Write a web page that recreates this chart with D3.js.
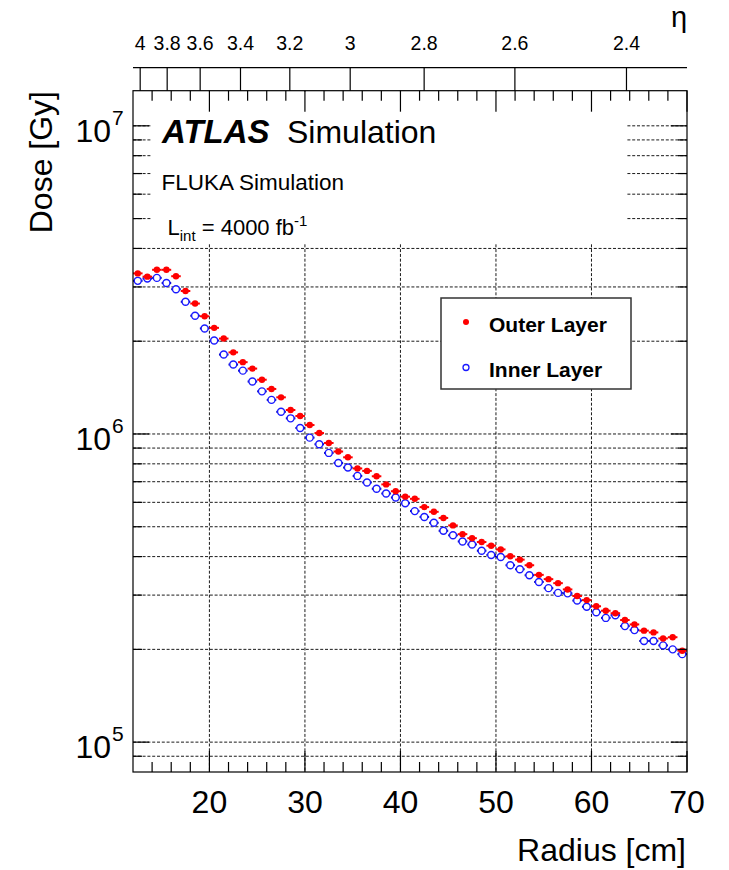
<!DOCTYPE html>
<html><head><meta charset="utf-8">
<script src="https://cdn.jsdelivr.net/npm/d3@7"></script>
<style>
body{margin:0;background:#fff}
text{font-family:"Liberation Sans",Arial,Helvetica,sans-serif;fill:#000}
</style></head>
<body><svg id="c" width="729" height="870"></svg>
<script>
// ---- data ----
const radius = [12.5,13.5,14.5,15.5,16.5,17.5,18.5,19.5,20.5,21.5,22.5,23.5,24.5,25.5,26.5,27.5,28.5,29.5,30.5,31.5,32.5,33.5,34.5,35.5,36.5,37.5,38.5,39.5,40.5,41.5,42.5,43.5,44.5,45.5,46.5,47.5,48.5,49.5,50.5,51.5,52.5,53.5,54.5,55.5,56.5,57.5,58.5,59.5,60.5,61.5,62.5,63.5,64.5,65.5,66.5,67.5,68.5,69.5];
const outerDose = [3.32e6,3.24e6,3.41e6,3.41e6,3.25e6,2.91e6,2.65e6,2.41e6,2.21e6,2.04e6,1.84e6,1.71e6,1.63e6,1.50e6,1.40e6,1.315e6,1.196e6,1.144e6,1.069e6,1.007e6,9.35e5,8.77e5,8.40e5,7.73e5,7.59e5,7.29e5,6.86e5,6.52e5,6.26e5,6.16e5,5.79e5,5.59e5,5.34e5,5.05e5,4.73e5,4.59e5,4.46e5,4.34e5,4.22e5,4.01e5,3.91e5,3.75e5,3.49e5,3.38e5,3.28e5,3.13e5,2.98e5,2.89e5,2.76e5,2.67e5,2.62e5,2.49e5,2.41e5,2.30e5,2.27e5,2.17e5,2.19e5,1.98e5];
const innerDose = [3.14e6,3.195e6,3.21e6,3.09e6,2.95e6,2.685e6,2.42e6,2.20e6,2.01e6,1.81e6,1.68e6,1.605e6,1.48e6,1.375e6,1.29e6,1.18e6,1.124e6,1.046e6,9.73e5,9.26e5,8.68e5,8.05e5,7.78e5,7.31e5,6.96e5,6.64e5,6.41e5,6.22e5,5.96e5,5.62e5,5.38e5,5.15e5,4.85e5,4.69e5,4.48e5,4.38e5,4.18e5,4.05e5,3.99e5,3.75e5,3.64e5,3.48e5,3.31e5,3.16e5,3.05e5,3.04e5,2.88e5,2.75e5,2.64e5,2.53e5,2.58e5,2.38e5,2.31e5,2.13e5,2.13e5,2.06e5,2.00e5,1.93e5];
const binHalfWidth = 0.5;
const xMajorTicks = [20,30,40,50,60,70];
const xMinorTicks = [14,16,18,22,24,26,28,32,34,36,38,42,44,46,48,52,54,56,58,62,64,66,68];
const yMajorExps = [5,6,7];
const yMinorTicks = [9e4,2e5,3e5,4e5,5e5,6e5,7e5,8e5,9e5,2e6,3e6,4e6,5e6,6e6,7e6,8e6,9e6];
const etaTicks = [4,3.8,3.6,3.4,3.2,3,2.8,2.6,2.4];
const etaLabels = ["4","3.8","3.6","3.4","3.2","3","2.8","2.6","2.4"];
const etaZ = 348; // cm, z position used for the eta axis
const series = ["Outer Layer","Inner Layer"];

// ---- layout ----
const L=133, R=687, T=90.7, B=772, etaY=67.7;
const x = d3.scaleLinear().domain([12,70]).range([L,R]);
const y = d3.scaleLog().domain([8e4,1.3e7]).range([B,T]);
const svg = d3.select("#c");
const red="#ff0000", blue="#1a1aff";

// grid
const grid = svg.append("g").attr("stroke","#000").attr("stroke-width",0.9).attr("stroke-dasharray","3,1.8");
grid.selectAll("line.v").data(xMajorTicks.filter(d=>d<70)).join("line")
  .attr("x1",d=>x(d)).attr("x2",d=>x(d)).attr("y1",T).attr("y2",B);
const yGridVals = yMinorTicks.concat(yMajorExps.map(e=>Math.pow(10,e)));
grid.selectAll("line.h").data(yGridVals).join("line")
  .attr("x1",L).attr("x2",R).attr("y1",d=>y(d)).attr("y2",d=>y(d));

// white panel behind the labels
svg.append("rect").attr("x",152).attr("y",T+1).attr("width",626-152).attr("height",244-T-1).attr("fill","#fff");

// legend box
const lg = svg.append("g");
lg.append("rect").attr("x",441).attr("y",298).attr("width",190).attr("height",91)
  .attr("fill","#fff").attr("stroke","#333").attr("stroke-width",1.5);
lg.append("circle").attr("cx",466).attr("cy",322).attr("r",3).attr("fill",red);
lg.append("circle").attr("cx",466).attr("cy",367.5).attr("r",3).attr("fill","none").attr("stroke",blue).attr("stroke-width",1.3);
lg.append("text").attr("x",489).attr("y",331.5).attr("font-size",21).attr("font-weight","bold").text(series[0]);
lg.append("text").attr("x",489).attr("y",376.5).attr("font-size",21).attr("font-weight","bold").text(series[1]);

// data: inner (open blue) then outer (red filled)
const inner = radius.map((r,i)=>({r,v:innerDose[i]}));
const outer = radius.map((r,i)=>({r,v:outerDose[i]}));
const gi = svg.append("g");
gi.selectAll("line").data(inner).join("line")
  .attr("x1",d=>x(d.r-binHalfWidth)).attr("x2",d=>x(d.r+binHalfWidth))
  .attr("y1",d=>y(d.v)).attr("y2",d=>y(d.v)).attr("stroke","#0000b0").attr("stroke-width",2);
gi.selectAll("circle").data(inner).join("circle")
  .attr("cx",d=>x(d.r)).attr("cy",d=>y(d.v)).attr("r",3.5)
  .attr("fill","#fff").attr("stroke",blue).attr("stroke-width",1.4);
const go = svg.append("g");
go.selectAll("line").data(outer).join("line")
  .attr("x1",d=>x(d.r-binHalfWidth)).attr("x2",d=>x(d.r+binHalfWidth))
  .attr("y1",d=>y(d.v)).attr("y2",d=>y(d.v)).attr("stroke",red).attr("stroke-width",2);
go.selectAll("circle").data(outer).join("circle")
  .attr("cx",d=>x(d.r)).attr("cy",d=>y(d.v)).attr("r",3.2).attr("fill",red);

// frame + ticks
const ax = svg.append("g").attr("stroke","#000").attr("stroke-width",1.2).attr("fill","none");
ax.append("rect").attr("x",L).attr("y",T).attr("width",R-L).attr("height",B-T);
function xt(vals,len){
  ax.append("g").selectAll("line").data(vals).join("line")
    .attr("x1",d=>x(d)).attr("x2",d=>x(d)).attr("y1",B).attr("y2",B-len);
  ax.append("g").selectAll("line").data(vals).join("line")
    .attr("x1",d=>x(d)).attr("x2",d=>x(d)).attr("y1",T).attr("y2",T+len);
}
xt(xMajorTicks,21); xt(xMinorTicks,10);
function yt(vals,len){
  ax.append("g").selectAll("line").data(vals).join("line")
    .attr("x1",L).attr("x2",L+len).attr("y1",d=>y(d)).attr("y2",d=>y(d));
  ax.append("g").selectAll("line").data(vals).join("line")
    .attr("x1",R).attr("x2",R-len).attr("y1",d=>y(d)).attr("y2",d=>y(d));
}
yt(yMajorExps.map(e=>Math.pow(10,e)),16); yt(yMinorTicks,9);

// eta axis
const etaX = e => x(etaZ/Math.sinh(e));
ax.append("line").attr("x1",L).attr("x2",R).attr("y1",etaY).attr("y2",etaY);
ax.append("g").selectAll("line").data(etaTicks).join("line")
  .attr("x1",d=>etaX(d)).attr("x2",d=>etaX(d)).attr("y1",etaY).attr("y2",T);
svg.append("g").selectAll("text").data(etaTicks).join("text")
  .attr("x",d=>etaX(d)).attr("y",49.5).attr("text-anchor","middle").attr("font-size",19.5)
  .text((d,i)=>etaLabels[i]);
svg.append("text").attr("x",679).attr("y",27).attr("text-anchor","middle").attr("font-size",29).text("η");

// x tick labels
svg.append("g").selectAll("text").data(xMajorTicks).join("text")
  .attr("x",d=>x(d)).attr("y",813).attr("text-anchor","middle").attr("font-size",32).text(d=>d);
// y tick labels
const yl = svg.append("g").selectAll("g").data(yMajorExps).join("g");
yl.append("text").attr("x",111).attr("y",d=>y(Math.pow(10,d))+16).attr("text-anchor","end").attr("font-size",32).text("10");
yl.append("text").attr("x",112).attr("y",d=>y(Math.pow(10,d))-1).attr("font-size",21).text(d=>d);

// axis titles
svg.append("text").attr("x",686).attr("y",861).attr("text-anchor","end").attr("font-size",32).text("Radius [cm]");
svg.append("text").attr("transform","translate(52,91) rotate(-90)").attr("text-anchor","end").attr("font-size",32).text("Dose [Gy]");

// labels
svg.append("text").attr("x",162).attr("y",143).attr("font-size",33)
  .attr("font-weight","bold").attr("font-style","italic").text("ATLAS");
svg.append("text").attr("x",287).attr("y",143).attr("font-size",32).text("Simulation");
svg.append("text").attr("x",161.5).attr("y",189.5).attr("font-size",22.5).text("FLUKA Simulation");
const t3 = svg.append("text").attr("x",167.5).attr("y",234.5).attr("font-size",22);
t3.append("tspan").text("L");
t3.append("tspan").attr("font-size",15).attr("dy",6).text("int");
t3.append("tspan").attr("dy",-6).text(" = 4000 fb");
t3.append("tspan").attr("font-size",15).attr("dy",-9).text("-1");
</script></body></html>
